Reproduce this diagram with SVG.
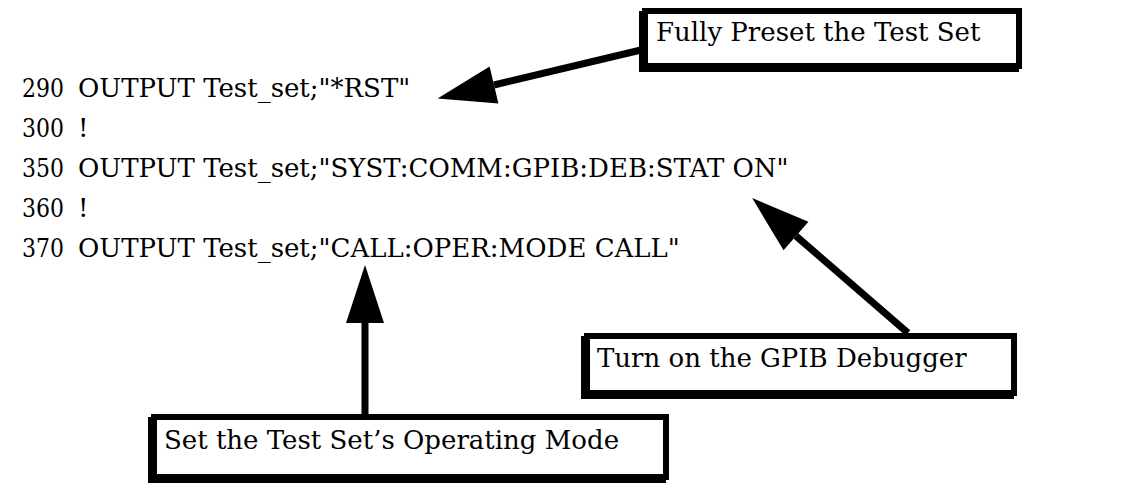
<svg xmlns="http://www.w3.org/2000/svg" width="1131" height="489" viewBox="0 0 1131 489">
  <style>
    text { font-family: "DejaVu Serif", "Liberation Serif", serif; fill: #000; }
    .code { font-size: 26px; }
    .lbl { font-size: 26px; }
    .box { fill: #fff; stroke: #000; stroke-width: 6; }
    .shadow { fill: none; stroke: #000; stroke-width: 6; }
    .shaft { stroke: #000; stroke-width: 7; fill: none; marker-end: url(#head); }
  </style>
  <defs>
    <marker id="head" markerUnits="userSpaceOnUse" markerWidth="60" markerHeight="40" refX="0" refY="20" orient="auto" overflow="visible">
      <path d="M0,1 L58,20 L0,39 Z" fill="#000"/>
    </marker>
  </defs>
  <rect width="1131" height="489" fill="#fff"/>
  <g id="code" class="code">
    <text x="22" y="97" textLength="42" lengthAdjust="spacingAndGlyphs">290</text><text x="78" y="97">OUTPUT Test_set;"*RST"</text>
    <text x="22" y="137" textLength="42" lengthAdjust="spacingAndGlyphs">300</text><text x="78" y="137">!</text>
    <text x="22" y="177" textLength="42" lengthAdjust="spacingAndGlyphs">350</text><text x="78" y="177">OUTPUT Test_set;"SYST:COMM:GPIB:DEB:STAT ON"</text>
    <text x="22" y="217" textLength="42" lengthAdjust="spacingAndGlyphs">360</text><text x="78" y="217">!</text>
    <text x="22" y="257" textLength="42" lengthAdjust="spacingAndGlyphs">370</text><text x="78" y="257">OUTPUT Test_set;"CALL:OPER:MODE CALL"</text>
  </g>
  <g id="connectors">
    <line class="shaft" x1="641" y1="50" x2="494" y2="85"/>
    <line class="shaft" x1="908" y1="333" x2="796" y2="236"/>
    <line class="shaft" x1="365" y1="414" x2="365" y2="323"/>
  </g>
  <g id="preset">
    <rect class="shadow" x="642" y="14" width="374" height="55"/>
    <rect class="box" x="645" y="11" width="374" height="55"/>
    <text class="lbl" x="656" y="41">Fully Preset the Test Set</text>
  </g>
  <g id="debugger">
    <rect class="shadow" x="584" y="339" width="427" height="57"/>
    <rect class="box" x="587" y="336" width="427" height="57"/>
    <text class="lbl" x="597" y="367">Turn on the GPIB Debugger</text>
  </g>
  <g id="mode">
    <rect class="shadow" x="151" y="420" width="512" height="60"/>
    <rect class="box" x="154" y="417" width="512" height="60"/>
    <text class="lbl" x="164" y="449">Set the Test Set’s Operating Mode</text>
  </g>
</svg>
